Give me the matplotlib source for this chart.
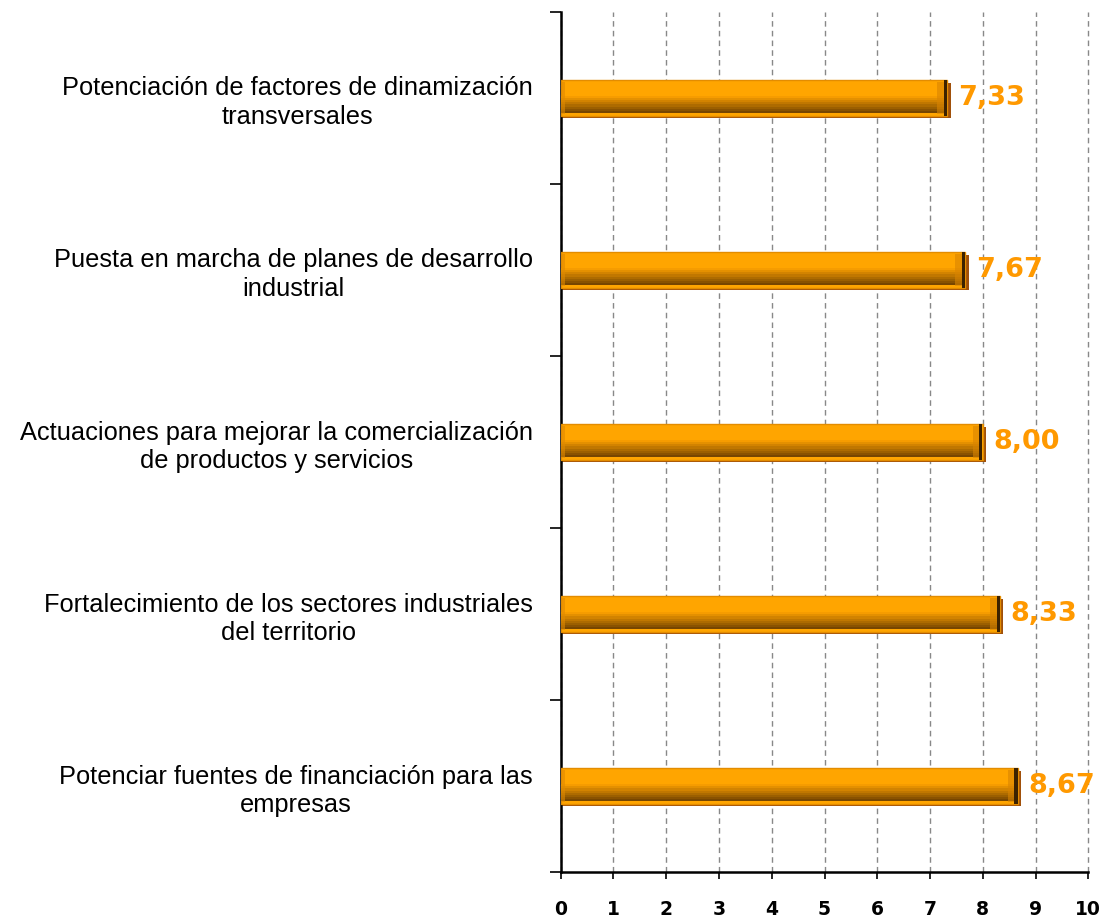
import matplotlib.pyplot as plt
import matplotlib.colors as mcolors
import numpy as np

# data (top to bottom)
categories = ['Potenciación de factores de dinamización\ntransversales',
              'Puesta en marcha de planes de desarrollo\nindustrial',
              'Actuaciones para mejorar la comercialización\nde productos y servicios',
              'Fortalecimiento de los sectores industriales\ndel territorio',
              'Potenciar fuentes de financiación para las\nempresas']
values = [7.33, 7.67, 8.00, 8.33, 8.67]
xticks = list(range(0, 11))

fig = plt.figure(figsize=(11.06, 9.18), dpi=100)
ax = fig.add_axes([0.507, 0.050, 0.477, 0.937])

ypos = np.arange(len(categories))
vals = np.array(values)
h = 0.205

# shadow behind the bar
ax.barh(ypos + 0.016, vals + 0.06, height=h, color='#A0500A', zorder=2)
# main bar
ax.barh(ypos, vals, height=h, color='#FFA500', edgecolor='#E38C00', linewidth=1, zorder=3)

# darker bands on the lower part to fake a cylinder
top_col = np.array(mcolors.to_rgb('#FFA200'))
bot_col = np.array(mcolors.to_rgb('#6E4000'))
n = 8
fracs = np.linspace(0.45, 0.92, n + 1)
for i in range(n):
    t = (i + 0.5) / n
    col = top_col * (1 - t) + bot_col * t
    mid = (fracs[i] + fracs[i + 1]) / 2 - 0.5
    ax.barh(ypos + mid * h, vals - 0.03, height=(fracs[i + 1] - fracs[i]) * h,
            color=col, linewidth=0, zorder=4)

# rounded end caps
ax.barh(ypos, [0.12] * len(vals), left=vals - 0.19, height=h * 0.9,
        color='#D98400', alpha=0.6, linewidth=0, zorder=5)
ax.barh(ypos, [0.06] * len(vals), left=vals - 0.07, height=h,
        color='#3C2200', linewidth=0, zorder=5)
ax.barh(ypos, [0.08] * len(vals), left=0, height=h * 0.9,
        color='#E08A00', alpha=0.6, linewidth=0, zorder=5)

for y, v in zip(ypos, values):
    ax.text(v + 0.2, y, f'{v:.2f}'.replace('.', ','), color='#FF9900',
            fontsize=19.5, fontweight='bold', family='DejaVu Sans',
            ha='left', va='center', zorder=6)

ax.set_xlim(0, 10)
ax.set_ylim(len(categories) - 0.5, -0.5)
ax.set_xticks(xticks)
ax.set_xticklabels([str(t) for t in xticks], fontsize=13.5, fontweight='bold',
                   family='DejaVu Sans')
ax.tick_params(axis='x', direction='out', length=5, width=1.2, pad=15)

ax.set_yticks(ypos)
ax.set_yticklabels(categories, fontsize=18.3, family='Liberation Sans',
                   multialignment='center', linespacing=1.22)
ax.tick_params(axis='y', which='major', length=0, pad=20)
ax.set_yticks(np.arange(-0.5, len(categories), 1), minor=True)
ax.tick_params(axis='y', which='minor', direction='out', length=8, width=1.2)

ax.grid(axis='x', color='#888888', linestyle=(0, (4, 3)), linewidth=1, zorder=0)
for line in ax.get_xgridlines():
    line.set_clip_on(False)
ax.set_axisbelow(True)
ax.spines['top'].set_visible(False)
ax.spines['right'].set_visible(False)
ax.spines['left'].set_linewidth(1.8)
ax.spines['bottom'].set_linewidth(1.8)

plt.savefig('out.png', dpi=100)
